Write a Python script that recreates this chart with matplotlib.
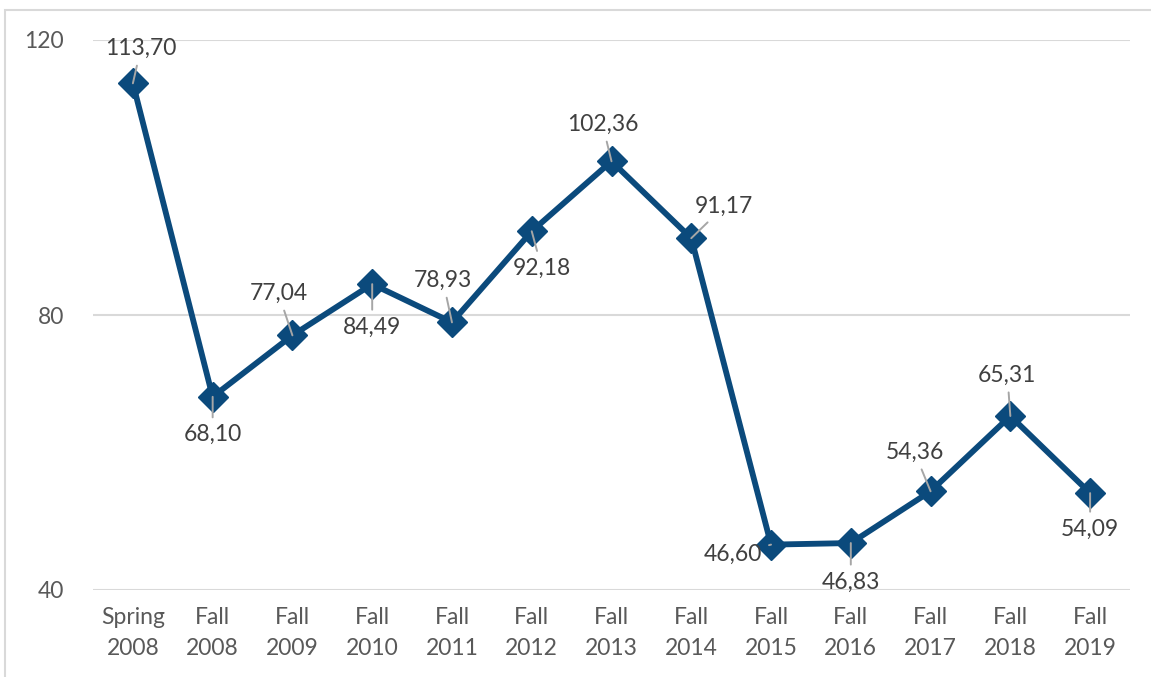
import numpy as np
import matplotlib.pyplot as plt
from matplotlib.patches import Rectangle

plt.rcParams['font.family'] = ['Lato', 'DejaVu Sans']

categories = ['Spring\n2008', 'Fall\n2008', 'Fall\n2009', 'Fall\n2010', 'Fall\n2011', 'Fall\n2012',
              'Fall\n2013', 'Fall\n2014', 'Fall\n2015', 'Fall\n2016', 'Fall\n2017', 'Fall\n2018',
              'Fall\n2019']
values = [113.70, 68.10, 77.04, 84.49, 78.93, 92.18, 102.36, 91.17, 46.60, 46.83, 54.36, 65.31, 54.09]
# label offsets in pixels (dx, dy) relative to the point
label_offsets = [(8, 35), (0, -38), (-14, 42), (0, -43), (-9, 42), (10, -37), (-9, 37),
                 (33, 32), (-38, -10), (0, -39), (-16, 39), (-3, 41), (0, -36)]

W, H = 1151, 677
fig = plt.figure(figsize=(W / 100, H / 100), dpi=100)
fig.patches.append(Rectangle((5 / W, -0.1), 1.2, 1.1 - 10 / H, transform=fig.transFigure,
                             fill=False, edgecolor='#D9D9D9', linewidth=1.5))
ax = fig.add_axes([93 / W, 1 - 590 / H, (1130 - 93) / W, 550 / H])

x = np.arange(len(values))
color = '#0B4A7C'
ax.plot(x, values, color=color, linewidth=4.2, marker='D', markersize=15, zorder=3)

for xi, v, (dx, dy) in zip(x, values, label_offsets):
    ax.annotate(f'{v:.2f}'.replace('.', ','), xy=(xi, v), xytext=(dx, dy),
                textcoords='offset pixels', ha='center', va='center', fontsize=16.5,
                color='#404040', zorder=4,
                arrowprops=dict(arrowstyle='-', color='#A6A6A6', lw=1.4, shrinkA=3, shrinkB=0))

ax.set_xlim(-0.5, len(values) - 0.5)
ax.set_ylim(40, 120)
ax.set_yticks([40, 80, 120])
ax.set_xticks(x)
ax.set_xticklabels(categories, linespacing=1.6)
ax.yaxis.grid(True, color='#D9D9D9', linewidth=1.5)
ax.set_axisbelow(True)
for s in ax.spines.values():
    s.set_visible(False)
ax.tick_params(axis='both', length=0, labelsize=16.5, labelcolor='#595959')
ax.tick_params(axis='x', pad=12)
ax.tick_params(axis='y', pad=21)

fig.savefig('out.png', dpi=100)
